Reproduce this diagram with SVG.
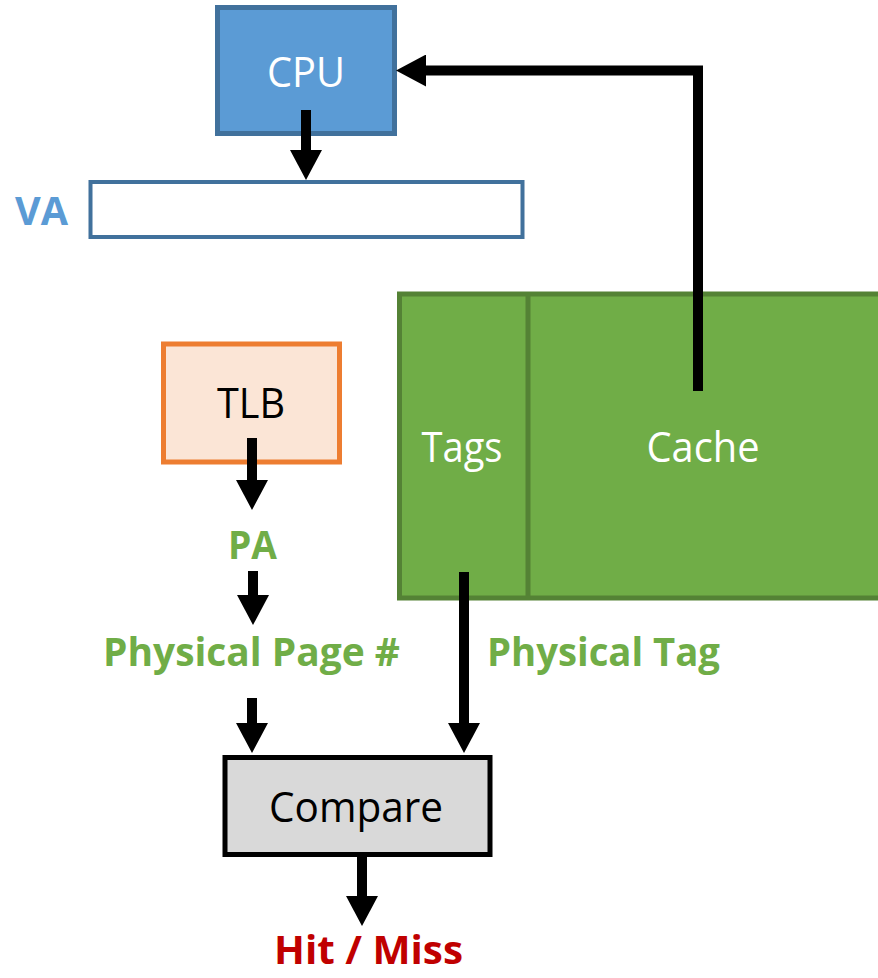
<svg xmlns="http://www.w3.org/2000/svg" width="878" height="978" viewBox="0 0 878 978">
  <style>
    .lbl { font-family: "Open Sans", "Noto Sans", "Liberation Sans", sans-serif; font-size: 42px; text-anchor: middle; }
    .bold { font-family: "Open Sans", "Noto Sans", "Liberation Sans", sans-serif; font-size: 40px; font-weight: bold; }
    .white { fill: #ffffff; }
    .black { fill: #000000; }
    .green { fill: #70ad47; }
    .conn { fill: none; stroke: #000000; stroke-width: 10; stroke-linejoin: miter; stroke-linecap: butt; }
  </style>
  <defs>
    <marker id="ah" viewBox="0 0 3 3.2" refX="0" refY="1.6" markerWidth="3" markerHeight="3.2" markerUnits="strokeWidth" orient="auto">
      <path d="M0,0 L3,1.6 L0,3.2 Z" fill="#000000"/>
    </marker>
  </defs>
  <rect width="878" height="978" fill="#ffffff"/>

  <g id="cpu">
    <rect x="217.5" y="7.5" width="177" height="126" fill="#5b9bd5" stroke="#41719c" stroke-width="5"/>
    <text class="lbl white" x="306" y="87" textLength="78" lengthAdjust="spacingAndGlyphs">CPU</text>
  </g>

  <g id="va">
    <rect x="90.5" y="182" width="432" height="55" fill="#ffffff" stroke="#41719c" stroke-width="4"/>
    <text class="bold" x="41.5" y="225" text-anchor="middle" fill="#5b9bd5" textLength="53" lengthAdjust="spacingAndGlyphs">VA</text>
  </g>

  <g id="cache">
    <rect x="399.5" y="294" width="600" height="304" fill="#70ad47" stroke="#548235" stroke-width="5"/>
    <line x1="528" y1="294" x2="528" y2="598" stroke="#548235" stroke-width="5"/>
    <text class="lbl white" x="462" y="462" textLength="81" lengthAdjust="spacingAndGlyphs">Tags</text>
    <text class="lbl white" x="703" y="462" textLength="113" lengthAdjust="spacingAndGlyphs">Cache</text>
  </g>

  <g id="tlb">
    <rect x="163.5" y="344" width="176" height="118" fill="#fbe5d6" stroke="#ed7d31" stroke-width="5"/>
    <text class="lbl black" x="251" y="418" textLength="68" lengthAdjust="spacingAndGlyphs">TLB</text>
  </g>

  <g id="pa">
    <text class="bold green" x="252.5" y="559" text-anchor="middle" textLength="49" lengthAdjust="spacingAndGlyphs">PA</text>
  </g>

  <g id="physical-page">
    <text class="bold green" x="103" y="666" textLength="297" lengthAdjust="spacingAndGlyphs">Physical Page #</text>
  </g>

  <g id="physical-tag">
    <text class="bold green" x="487" y="666" textLength="233" lengthAdjust="spacingAndGlyphs">Physical Tag</text>
  </g>

  <g id="compare">
    <rect x="225" y="757.5" width="265" height="97" fill="#d9d9d9" stroke="#000000" stroke-width="5"/>
    <text class="lbl black" x="356" y="822" textLength="174" lengthAdjust="spacingAndGlyphs">Compare</text>
  </g>

  <g id="hit-miss">
    <text class="bold" x="368.5" y="964" text-anchor="middle" fill="#c00000" textLength="189" lengthAdjust="spacingAndGlyphs">Hit / Miss</text>
  </g>

  <g id="connectors">
    <line class="conn" x1="306" y1="110" x2="306" y2="150" marker-end="url(#ah)"/>
    <polyline class="conn" points="698,391 698,70.5 426,70.5" marker-end="url(#ah)"/>
    <line class="conn" x1="252" y1="438" x2="252" y2="480" marker-end="url(#ah)"/>
    <line class="conn" x1="253" y1="571" x2="253" y2="595" marker-end="url(#ah)"/>
    <line class="conn" x1="252" y1="698" x2="252" y2="723" marker-end="url(#ah)"/>
    <line class="conn" x1="464" y1="572" x2="464" y2="723" marker-end="url(#ah)"/>
    <line class="conn" x1="362" y1="857" x2="362" y2="896" marker-end="url(#ah)"/>
  </g>
</svg>
